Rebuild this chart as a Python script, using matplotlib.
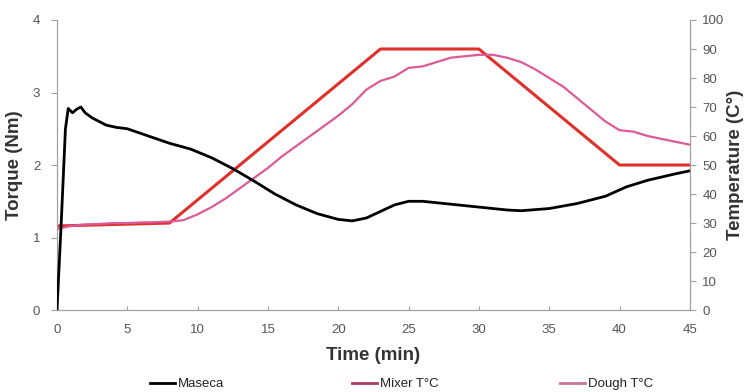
import matplotlib
matplotlib.use("Agg")
import matplotlib.pyplot as plt

plt.rcParams["font.family"] = ["Liberation Sans", "DejaVu Sans"]

# Torque (Maseca)
t_torque = [0, 0.3, 0.6, 0.8, 1.1, 1.4, 1.7, 2.0, 2.5, 3.0, 3.5, 4.2, 5.0, 6.5, 8.0, 9.5, 11.0,
            12.5, 14.0, 15.5, 17.0, 18.5, 20.0, 21.0, 22.0, 23.0, 24.0, 25.0, 26.0, 28.0,
            30.0, 32.0, 33.0, 35.0, 37.0, 39.0, 40.5, 42.0, 44.0, 45.0]
torque = [0.0, 1.2, 2.5, 2.78, 2.72, 2.77, 2.8, 2.72, 2.65, 2.6, 2.55, 2.52, 2.5, 2.4, 2.3, 2.22, 2.1,
          1.95, 1.78, 1.6, 1.45, 1.33, 1.25, 1.23, 1.27, 1.36, 1.45, 1.5, 1.5, 1.46,
          1.42, 1.38, 1.37, 1.4, 1.47, 1.57, 1.7, 1.79, 1.88, 1.92]

# Mixer temperature
t_mixer = [0, 8, 23, 30, 40, 45]
mixer_T = [29, 30, 90, 90, 50, 50]

# Dough temperature
t_dough = list(range(0, 46))
dough_T = [28, 29, 29.5, 29.7, 30, 30, 30.2, 30.3, 30.5, 31, 33, 35.5, 38.5, 42, 45.5, 49,
           53, 56.5, 60, 63.5, 67, 71, 76, 79, 80.5, 83.5, 84, 85.5, 87, 87.5, 88, 88,
           87, 85.5, 83, 80, 77, 73, 69, 65, 62, 61.5, 60, 59, 58, 57]

series_labels = ["Maseca", "Mixer T°C", "Dough T°C"]

fig = plt.figure(figsize=(7.45, 3.92), dpi=100)
ax = fig.add_axes([0.0765, 0.209, 0.8495, 0.740])
ax2 = ax.twinx()

grey = "#a0a0a0"
txt = "#555555"
lab = "#333333"

ax.plot(t_torque, torque, color="black", lw=2.0, zorder=3)
ax2.plot(t_mixer, mixer_T, color="#e0302a", lw=2.2)
ax2.plot(t_dough, dough_T, color="#dc5a98", lw=1.6)
ax.set_zorder(ax2.get_zorder() + 1)
ax.patch.set_visible(False)

ax.set_xlim(0, 45)
ax.set_ylim(0, 4)
ax2.set_ylim(0, 100)
ax.set_xticks(range(0, 46, 5))
ax.set_yticks([0, 1, 2, 3, 4])
ax2.set_yticks(range(0, 101, 10))

for a in (ax, ax2):
    for s in a.spines.values():
        s.set_color(grey)
    a.spines["top"].set_visible(False)
    a.tick_params(colors=grey, labelcolor=txt, labelsize=9.5, length=4)
ax.tick_params(axis="x", direction="in", length=3, pad=10)
ax.tick_params(axis="y", pad=8)
ax2.tick_params(axis="y", pad=5)

ax.set_xlabel("Time (min)", fontsize=13.5, fontweight="bold", color=lab)
ax.set_ylabel("Torque (Nm)", fontsize=13.5, fontweight="bold", color=lab)
ax2.set_ylabel("Temperature (C°)", fontsize=13.5, fontweight="bold", color=lab, rotation=90)
ax.xaxis.set_label_coords(0.5, -0.128)
ax.yaxis.set_label_coords(-0.054, 0.5)
ax2.yaxis.set_label_coords(1.0585, 0.5)

legend_colors = ["black", "#b03a60", "#c87898"]
legend_x = [150, 352, 560]
for lbl, col, xp in zip(series_labels, legend_colors, legend_x):
    h, = ax.plot([], [], color=col, lw=2)
    fig.legend([h], [lbl], loc="center left", bbox_to_anchor=(xp / 745, 1 - 384 / 392),
               frameon=False, fontsize=9.5, handlelength=1.9, handletextpad=0.2,
               borderpad=0, borderaxespad=0, labelcolor="#222222")

fig.savefig("out.png", dpi=100)
